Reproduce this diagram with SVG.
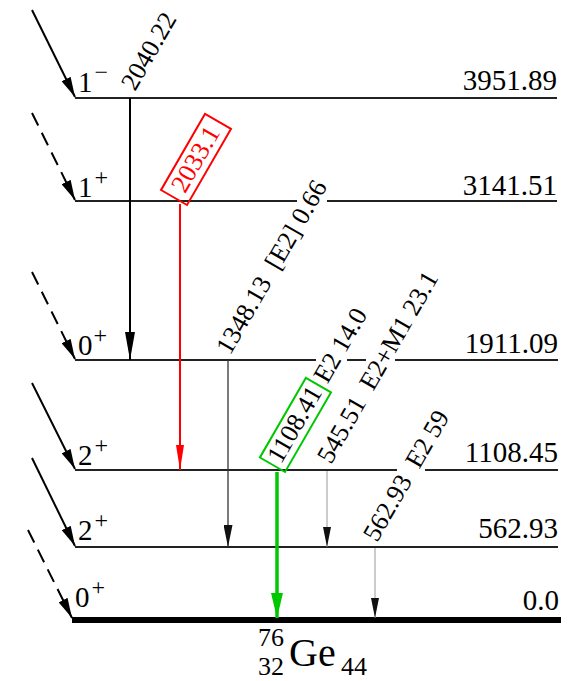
<svg xmlns="http://www.w3.org/2000/svg" width="571" height="681" viewBox="0 0 571 681" font-family="'Liberation Serif', 'Times New Roman', serif">
<style>
text{font-family:"Liberation Serif","Times New Roman",serif;fill:#000}
.lv{stroke:#222;stroke-width:2;fill:none}
.en{font-size:29px;text-anchor:end}
.sp{font-size:29px}
.sup{font-size:24px}
.tl{font-size:26px;white-space:pre}
.feed{stroke:#000;stroke-width:2;fill:none;marker-end:url(#mFeed)}
.dash{stroke-dasharray:14 8}
.nuc{font-size:26px}
</style>
<defs>
<marker id="mFeed" markerUnits="userSpaceOnUse" markerWidth="20" markerHeight="10" refX="20" refY="5" orient="auto" viewBox="0 0 20 10"><path d="M0,0 L20,5 L0,10 Z" fill="#000"/></marker>
<marker id="mBlack" markerUnits="userSpaceOnUse" markerWidth="28" markerHeight="10" refX="28" refY="5" orient="auto" viewBox="0 0 28 10"><path d="M0,0 L28,5 L0,10 Z" fill="#000"/></marker>
<marker id="mRed" markerUnits="userSpaceOnUse" markerWidth="25" markerHeight="8" refX="25" refY="4" orient="auto" viewBox="0 0 25 8"><path d="M0,0 L25,4 L0,8 Z" fill="#f00"/></marker>
<marker id="mGreen" markerUnits="userSpaceOnUse" markerWidth="25" markerHeight="12" refX="25" refY="6" orient="auto" viewBox="0 0 25 12"><path d="M0,0 L25,6 L0,12 Z" fill="#00c800"/></marker>
<marker id="mDark" markerUnits="userSpaceOnUse" markerWidth="22" markerHeight="9" refX="22" refY="4.5" orient="auto" viewBox="0 0 22 9"><path d="M0,0 L22,4.5 L0,9 Z" fill="#111"/></marker>
<marker id="mGray" markerUnits="userSpaceOnUse" markerWidth="20" markerHeight="8" refX="20" refY="4" orient="auto" viewBox="0 0 20 8"><path d="M0,0 L20,4 L0,8 Z" fill="#111"/></marker>
</defs>
<g id="level-3951">
<line class="lv" x1="75" y1="98" x2="557" y2="98"/>
<text class="sp" x="78" y="92">1<tspan class="sup" dx="2" dy="-12">−</tspan></text>
<text class="en" x="557" y="90">3951.89</text>
</g>
<g id="level-3141">
<path class="lv" d="M75,201 H297 M327,201 H557"/>
<text class="sp" x="78" y="197">1<tspan class="sup" dx="2" dy="-12">+</tspan></text>
<text class="en" x="557" y="195">3141.51</text>
</g>
<g id="level-1911">
<path class="lv" d="M75,360 H316 M347,360 H366 M395,360 H558"/>
<text class="sp" x="78" y="355">0<tspan class="sup" dx="1" dy="-12">+</tspan></text>
<text class="en" x="558" y="353">1911.09</text>
</g>
<g id="level-1108">
<path class="lv" d="M75,470 H397 M425,470 H558"/>
<text class="sp" x="78" y="465">2<tspan class="sup" dx="2" dy="-12">+</tspan></text>
<text class="en" x="558" y="462">1108.45</text>
</g>
<g id="level-562">
<line class="lv" x1="75" y1="547" x2="558" y2="547"/>
<text class="sp" x="78" y="540">2<tspan class="sup" dx="2" dy="-12">+</tspan></text>
<text class="en" x="558" y="538">562.93</text>
</g>
<g id="level-0">
<line x1="72" y1="620" x2="561" y2="620" stroke="#000" stroke-width="6"/>
<text class="sp" x="75" y="607">0<tspan class="sup" dx="2" dy="-12">+</tspan></text>
<text class="en" x="559" y="610">0.0</text>
</g>
<g id="nucleus">
<text class="nuc" x="258" y="646">76</text>
<text class="nuc" x="258" y="675">32</text>
<text x="289" y="666" font-size="40">Ge</text>
<text class="nuc" x="341" y="675">44</text>
</g>
<g id="connectors">
<line class="feed" x1="32" y1="10" x2="75" y2="97"/>
<line class="feed dash" x1="32" y1="113" x2="75" y2="200"/>
<line class="feed dash" x1="32" y1="272" x2="75" y2="359"/>
<line class="feed" x1="32" y1="383" x2="75" y2="469"/>
<line class="feed" x1="32" y1="458" x2="75" y2="546"/>
<line class="feed dash" x1="28" y1="530" x2="72" y2="618"/>
<line x1="130" y1="98" x2="130" y2="360" stroke="#000" stroke-width="2" marker-end="url(#mBlack)"/>
<line x1="180" y1="204" x2="180" y2="470" stroke="#f00" stroke-width="2" marker-end="url(#mRed)"/>
<line x1="228" y1="360" x2="228" y2="547" stroke="#333" stroke-width="1.3" marker-end="url(#mDark)"/>
<line x1="277" y1="472" x2="277" y2="618" stroke="#00c800" stroke-width="3.5" marker-end="url(#mGreen)"/>
<line x1="327" y1="471" x2="327" y2="547" stroke="#999" stroke-width="1" marker-end="url(#mGray)"/>
<line x1="375" y1="548" x2="375" y2="618" stroke="#999" stroke-width="1" marker-end="url(#mGray)"/>
</g>
<g id="label-2040">
<text class="tl" transform="translate(135,92) rotate(-60)">2040.22</text>
</g>
<g id="label-2033" transform="translate(187,205) rotate(-60)">
<rect x="0" y="-30" width="88" height="30" fill="none" stroke="#f00" stroke-width="2"/>
<text class="tl" x="44" y="-7" text-anchor="middle" style="fill:#f00">2033.1</text>
</g>
<g id="label-1348">
<text class="tl" transform="translate(230,356) rotate(-60)">1348.13  [E2] 0.66</text>
</g>
<g id="label-1108" transform="translate(285,472) rotate(-60)">
<rect x="0" y="-29" width="92" height="29" fill="none" stroke="#00c800" stroke-width="2"/>
<text class="tl" x="46" y="-7" text-anchor="middle">1108.41</text>
<text class="tl" x="97" y="-7">E2 14.0</text>
</g>
<g id="label-545">
<text class="tl" transform="translate(331,465) rotate(-60)">545.51  E2+M1 23.1</text>
</g>
<g id="label-562">
<text class="tl" transform="translate(377,543) rotate(-60)">562.93  E2 59</text>
</g>
</svg>
